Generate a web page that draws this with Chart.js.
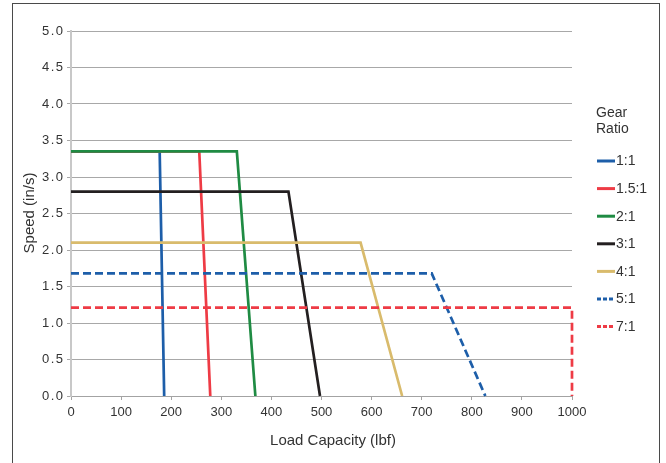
<!DOCTYPE html>
<html>
<head>
<meta charset="utf-8">
<script src="https://cdn.jsdelivr.net/npm/chart.js@4/dist/chart.umd.min.js"></script>
<style>
  html, body { margin: 0; padding: 0; background: #fff; overflow: hidden; }
  #wrap { position: relative; width: 666px; height: 463px; }
  #frame { position: absolute; left: 12px; top: 3px; width: 648px; height: 480px; border: 1.5px solid #4a4a4a; box-sizing: border-box; pointer-events: none; }
  canvas { position: absolute; left: 0; top: 0; }
</style>
</head>
<body>
<div id="wrap">
  <canvas id="c" width="666" height="463"></canvas>
  <div id="frame"></div>
</div>
<script>
// Data
const ratios    = ['1:1', '1.5:1', '2:1', '3:1', '4:1', '5:1', '7:1'];
const speeds    = [3.35, 3.35, 3.35, 2.8, 2.1, 1.68, 1.21];   // in/s (flat part)
const kneeLoads = [177, 256, 331, 434, 578, 720, 1000];        // lbf where speed starts to drop
const maxLoads  = [186, 278, 368, 497, 661, 827, 1000];        // lbf at zero speed
const colors    = ['#1d5ea9', '#ee3b45', '#1f8b43', '#231f20', '#d9bb6c', '#1d5ea9', '#ee3b45'];
const dashed    = [false, false, false, false, false, true, true];
const xTicks    = [0, 100, 200, 300, 400, 500, 600, 700, 800, 900, 1000];
const yTicks    = [0.0, 0.5, 1.0, 1.5, 2.0, 2.5, 3.0, 3.5, 4.0, 4.5, 5.0];

const datasets = ratios.map((r, i) => ({
  label: r,
  data: [
    { x: 0, y: speeds[i] },
    { x: kneeLoads[i], y: speeds[i] },
    { x: maxLoads[i], y: 0 }
  ],
  order: -i,
  borderColor: colors[i],
  backgroundColor: colors[i],
  borderWidth: 2.7,
  borderDash: dashed[i] ? [8, 4] : [],
  pointRadius: 0,
  tension: 0,
  fill: false,
  clip: 4
}));

const FONT = '"Liberation Sans", Arial, Helvetica, sans-serif';

const decor = {
  id: 'decor',
  afterDraw(chart) {
    const ctx = chart.ctx;
    ctx.save();
    ctx.fillStyle = '#333';
    // axis titles
    ctx.font = '15px ' + FONT;
    ctx.textAlign = 'center';
    ctx.textBaseline = 'middle';
    ctx.fillText('Load Capacity (lbf)', 333, 441);
    ctx.save();
    ctx.translate(30, 213);
    ctx.rotate(-Math.PI / 2);
    ctx.fillText('Speed (in/s)', 0, 0);
    ctx.restore();
    // legend
    ctx.textAlign = 'left';
    ctx.textBaseline = 'alphabetic';
    ctx.font = '14px ' + FONT;
    ctx.fillText('Gear', 596, 117);
    ctx.fillText('Ratio', 596, 133);
    chart.data.datasets.forEach((ds, i) => {
      const y = 161 + i * 27.6;
      ctx.save();
      ctx.strokeStyle = ds.borderColor;
      ctx.lineWidth = 3;
      ctx.setLineDash(ds.borderDash.length ? [4, 2] : []);
      ctx.beginPath();
      ctx.moveTo(597, y);
      ctx.lineTo(615, y);
      ctx.stroke();
      ctx.restore();
      ctx.textBaseline = 'middle';
      ctx.font = '14px ' + FONT;
      ctx.fillStyle = '#333';
      ctx.fillText(ds.label, 616, y + 0.5);
    });
    ctx.restore();
  }
};

const chart = new Chart(document.getElementById('c'), {
  type: 'line',
  data: { datasets },
  options: {
    responsive: false,
    animation: false,
    devicePixelRatio: 1,
    layout: { padding: { left: 0, top: 31, right: 94, bottom: 0 } },
    plugins: { legend: { display: false }, tooltip: { enabled: false } },
    scales: {
      x: {
        type: 'linear',
        min: 0, max: 1000,
        afterFit(s) { s.height = 67; },
        afterBuildTicks(s) { s.ticks = xTicks.map(v => ({ value: v })); },
        ticks: { color: '#333', font: { family: FONT, size: 13 }, padding: 5, maxRotation: 0, autoSkip: false, callback: v => String(v) },
        grid: { drawOnChartArea: false, drawTicks: true, tickLength: 4, color: '#a3a3a3', lineWidth: 1 },
        border: { color: '#a3a3a3', width: 1 }
      },
      y: {
        type: 'linear',
        min: 0, max: 5,
        afterFit(s) { s.width = 71; },
        afterBuildTicks(s) { s.ticks = yTicks.map(v => ({ value: v })); },
        ticks: { color: '#333', font: { family: FONT, size: 13 }, padding: 2.5, callback: v => Number(v).toFixed(1) },
        grid: { color: '#a8a8a8', lineWidth: 1, tickLength: 4, drawTicks: true },
        border: { color: '#c8c8c8', width: 2 }
      }
    }
  },
  plugins: [decor]
});

// wider letter spacing on the y tick labels, as in the reference
const ys = chart.scales.y;
const origLabels = ys.drawLabels.bind(ys);
ys.drawLabels = function (area) {
  const c = this.ctx;
  c.save();
  c.letterSpacing = '1.5px';
  origLabels(area);
  c.restore();
};
chart.draw();
</script>
</body>
</html>
